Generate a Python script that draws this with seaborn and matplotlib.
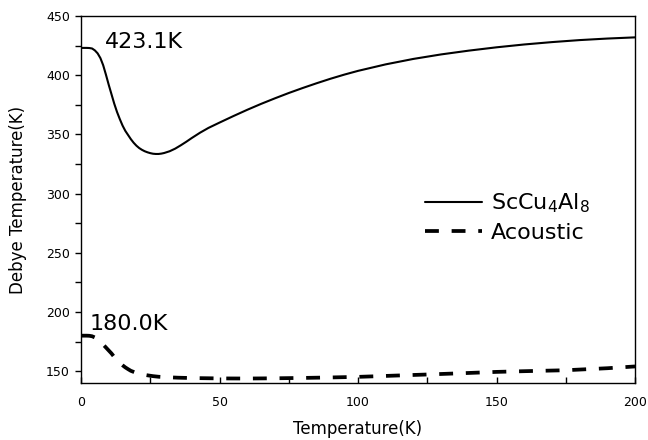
import matplotlib
matplotlib.use("Agg")
import matplotlib.pyplot as plt
import seaborn as sns
import pandas as pd
from matplotlib.ticker import MultipleLocator

# ---- data ----
t_sc = [0, 1, 2, 3, 4, 5, 6, 7, 8, 9, 10, 11, 12, 13, 14, 15, 16, 17, 18, 19, 20,
        21, 22, 23, 24, 25, 26, 27, 28, 29, 30, 32, 34, 36, 38, 40, 43, 46, 50,
        55, 60, 65, 70, 75, 80, 85, 90, 95, 100, 110, 120, 130, 140, 150, 160,
        170, 180, 190, 200]
theta_sc = [423.1, 423.1, 423.1, 423.0, 422.6, 421.0, 418.5, 414.5, 408.5, 400.5,
            392.0, 384.0, 376.0, 369.0, 363.0, 357.5, 353.0, 349.5, 346.0, 343.0,
            340.5, 338.5, 337.0, 335.8, 334.9, 334.2, 333.7, 333.5, 333.5, 333.8,
            334.3, 335.8, 338.0, 340.8, 343.8, 347.0, 351.5, 355.5, 360.0,
            365.5, 370.8, 375.8, 380.5, 385.0, 389.2, 393.2, 397.0, 400.5, 403.7,
            409.2, 413.8, 417.6, 420.8, 423.6, 426.0, 428.0, 429.7, 431.0, 432.0]
t_ac = [0, 1, 2, 3, 4, 5, 6, 7, 8, 9, 10, 11, 12, 13, 14, 15, 16, 17, 18, 20, 22,
        24, 26, 28, 30, 35, 40, 50, 60, 70, 80, 90, 100, 110, 125, 140, 150, 160,
        175, 190, 200]
theta_ac = [180.0, 180.0, 180.0, 179.9, 179.5, 178.5, 177.0, 175.0, 172.5, 170.0,
            167.5, 165.0, 162.0, 159.5, 157.0, 155.0, 153.2, 151.7, 150.3, 148.5,
            147.3, 146.5, 145.8, 145.3, 145.0, 144.5, 144.2, 143.9, 143.8, 144.0,
            144.3, 144.7, 145.2, 146.0, 147.2, 148.5, 149.4, 150.0, 150.8, 152.5,
            154.0]
series_labels = ["ScCu$_4$Al$_8$", "Acoustic"]
annotations = ["423.1K", "180.0K"]
x_label = "Temperature(K)"
y_label = "Debye Temperature(K)"

sns.set_theme(style="ticks")
plt.rcParams["font.family"] = ["DejaVu Sans"]
plt.rcParams["mathtext.fontset"] = "dejavusans"
plt.rcParams["text.color"] = "black"
plt.rcParams["axes.labelcolor"] = "black"
plt.rcParams["xtick.color"] = "black"
plt.rcParams["ytick.color"] = "black"

df_sc = pd.DataFrame({"T": t_sc, "theta": theta_sc})
df_ac = pd.DataFrame({"T": t_ac, "theta": theta_ac})

fig = plt.figure(figsize=(6.48, 4.40), dpi=100)
ax = fig.add_axes([0.125, 0.1295, 0.855, 0.834])

sns.lineplot(data=df_sc, x="T", y="theta", ax=ax, color="black", lw=1.5,
             label=series_labels[0])
sns.lineplot(data=df_ac, x="T", y="theta", ax=ax, color="black", lw=2.7,
             label=series_labels[1])
ax.lines[1].set_dashes((3.7, 3.4))
ax.lines[1].set_dash_capstyle("butt")

ax.set_xlim(0, 200)
ax.set_ylim(140, 450)
ax.xaxis.set_major_locator(MultipleLocator(50))
ax.xaxis.set_minor_locator(MultipleLocator(25))
ax.yaxis.set_minor_locator(MultipleLocator(25))
ax.set_yticks([150, 200, 250, 300, 350, 400, 450])

ax.tick_params(axis="x", which="both", direction="in", length=4, width=1.0,
               labelsize=9, colors="black", pad=9)
ax.tick_params(axis="y", which="both", direction="out", length=4, width=1.0,
               labelsize=9, colors="black", pad=4)
ax.tick_params(top=False, right=False, which="both")
for s in ax.spines.values():
    s.set_visible(True)
    s.set_color("black")
    s.set_linewidth(1.0)

ax.set_xlabel(x_label, fontsize=12, labelpad=8)
ax.set_ylabel(y_label, fontsize=12, labelpad=14)

ax.text(8.5, 428, annotations[0], fontsize=16, ha="left", va="center")
ax.text(3.2, 190, annotations[1], fontsize=16, ha="left", va="center")

leg = ax.legend(loc="center left", bbox_to_anchor=(0.62, 0.451), frameon=False,
                fontsize=16, handlelength=2.6, handletextpad=0.4, labelspacing=0.35,
                borderpad=0, borderaxespad=0)
for txt in leg.get_texts():
    txt.set_color("black")

fig.savefig("out.png", dpi=100)
